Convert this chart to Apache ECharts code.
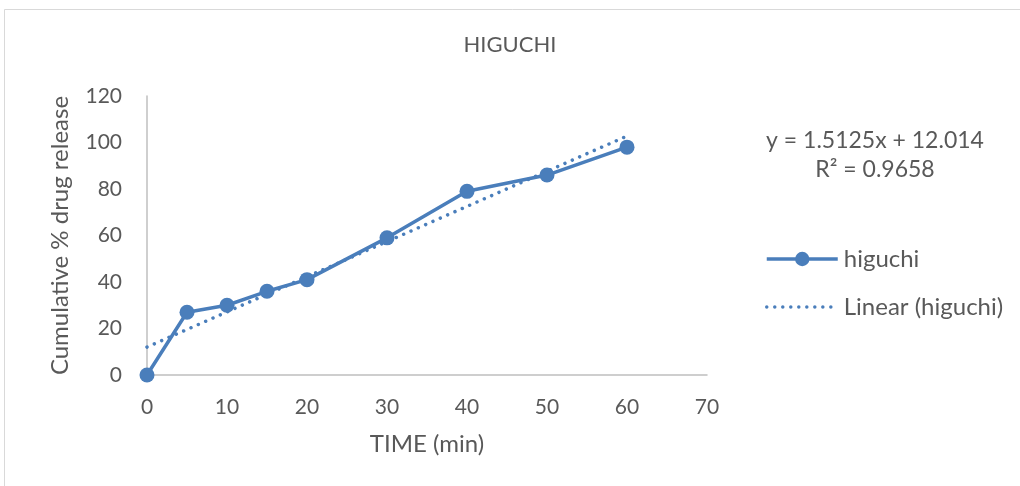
<!DOCTYPE html>
<html><head><meta charset="utf-8">
<script src="https://cdn.jsdelivr.net/npm/echarts@6/dist/echarts.min.js"></script>
<style>html,body{margin:0;padding:0;background:#fff}#c{width:1020px;height:486px}</style>
</head><body><div id="c"></div>
<script>
const timeMin = [0, 5, 10, 15, 20, 30, 40, 50, 60];
const release = [0, 27, 30, 36, 41, 59, 79, 86, 98];
const trendX = [0, 60];
const trendY = [12.014, 102.764];
const xTicks = [0, 10, 20, 30, 40, 50, 60, 70];
const yTicks = [0, 20, 40, 60, 80, 100, 120];
const seriesName = 'higuchi';
const trendName = 'Linear (higuchi)';
const equationLines = ['y = 1.5125x + 12.014', 'R² = 0.9658'];

const FONT = 'Lato, "Open Sans", sans-serif';
const TXT = '#595959';
const BLUE = '#4A7EBB';
const DOT = [0.01, 8];

const chart = echarts.init(document.getElementById('c'), null, {renderer: 'canvas'});
chart.setOption({
  animation: false,
  backgroundColor: '#fff',
  title: {
    text: 'HIGUCHI', left: 'center', top: 29,
    textStyle: {fontFamily: FONT, fontSize: 22, fontWeight: 'normal', color: TXT}
  },
  grid: {left: 147, right: 313, top: 96, bottom: 111, containLabel: false},
  xAxis: {
    type: 'value', min: 0, max: 70, interval: 10,
    name: 'TIME (min)', nameLocation: 'middle', nameGap: 57,
    nameTextStyle: {fontFamily: FONT, fontSize: 24, color: TXT},
    axisLine: {show: true, lineStyle: {color: '#bfbfbf', width: 1.5}},
    axisTick: {show: false},
    splitLine: {show: false},
    axisLabel: {fontFamily: FONT, fontSize: 21, color: TXT, margin: 22,
      formatter: v => xTicks.includes(v) ? String(v) : ''}
  },
  yAxis: {
    type: 'value', min: 0, max: 120, interval: 20,
    name: 'Cumulative % drug release', nameLocation: 'middle', nameGap: 75, nameRotate: 90,
    nameTextStyle: {fontFamily: FONT, fontSize: 24, color: TXT},
    axisLine: {show: true, lineStyle: {color: '#bfbfbf', width: 1.5}},
    axisTick: {show: false},
    splitLine: {show: false},
    axisLabel: {fontFamily: FONT, fontSize: 21, color: TXT, margin: 25,
      formatter: v => yTicks.includes(v) ? String(v) : ''}
  },
  legend: {
    orient: 'vertical', left: 760, top: 242, itemGap: 24,
    itemWidth: 71, itemHeight: 18,
    textStyle: {fontFamily: FONT, fontSize: 24, color: TXT, padding: [0, 0, 0, 1]},
    data: [
      {name: seriesName, lineStyle: {width: 3.5}},
      {name: trendName, itemStyle: {opacity: 0}, lineStyle: {width: 3.5}}
    ]
  },
  series: [
    {
      name: trendName, type: 'line', z: 2,
      data: trendX.map((x, i) => [x, trendY[i]]),
      showSymbol: false, symbol: 'none',
      lineStyle: {color: BLUE, width: 3.5, type: DOT, cap: 'round'},
      itemStyle: {color: BLUE}
    },
    {
      name: seriesName, type: 'line', z: 3,
      data: timeMin.map((x, i) => [x, release[i]]),
      symbol: 'circle', symbolSize: 15,
      lineStyle: {color: BLUE, width: 3.5},
      itemStyle: {color: BLUE}
    }
  ],
  graphic: [
    {type: 'rect', shape: {x: 4.5, y: 9.5, width: 1100, height: 600},
     style: {fill: 'none', stroke: '#d9d9d9', lineWidth: 1}, silent: true, z: -1},
    {type: 'text', x: 875, y: 141,
     style: {text: equationLines[0], fontFamily: FONT, fontSize: 23, fill: TXT, align: 'center', verticalAlign: 'middle'}},
    {type: 'text', x: 875, y: 170,
     style: {text: equationLines[1], fontFamily: FONT, fontSize: 23, fill: TXT, align: 'center', verticalAlign: 'middle'}}
  ]
});
</script></body></html>
